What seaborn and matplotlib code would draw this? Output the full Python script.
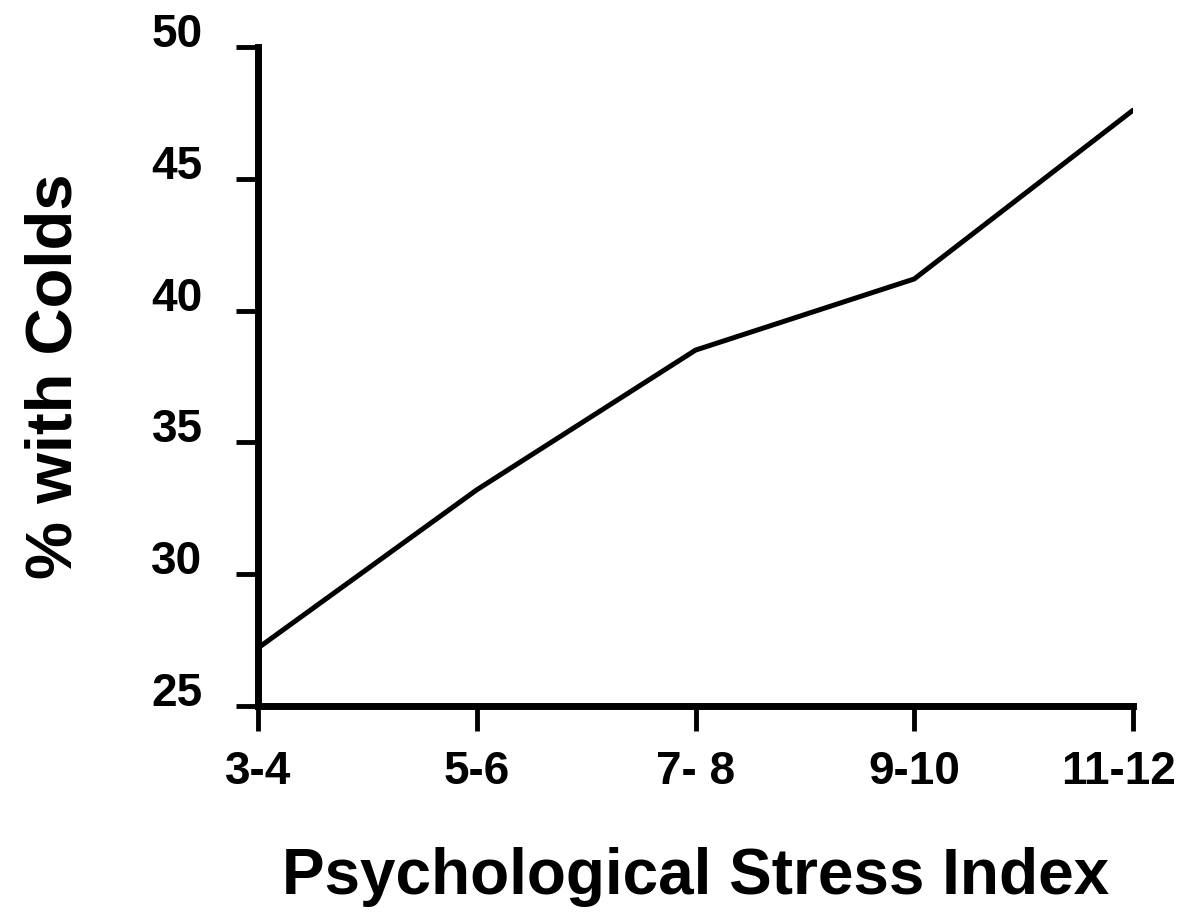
import numpy as np
import pandas as pd
import seaborn as sns
import matplotlib.pyplot as plt
import matplotlib.transforms as mtransforms

# data
stress_groups = ["3-4", "5-6", "7- 8", "9-10", "11-12"]
pct_colds = [27.2, 33.2, 38.5, 41.2, 47.6]
y_ticks = [25, 30, 35, 40, 45, 50]

df = pd.DataFrame({"group": stress_groups, "pct": pct_colds})
df["pos"] = np.arange(len(df))

sns.set_style("white")
plt.rcParams["font.family"] = ["Liberation Sans", "DejaVu Sans"]
plt.rcParams["font.weight"] = "bold"
plt.rcParams["text.color"] = "black"
plt.rcParams["axes.labelcolor"] = "black"
plt.rcParams["xtick.color"] = "black"
plt.rcParams["ytick.color"] = "black"

fig = plt.figure(figsize=(11.87, 9.14), dpi=100)
ax = fig.add_axes([0.2174, 0.2276, 0.9545 - 0.2174, 0.9486 - 0.2276])

sns.lineplot(data=df, x="pos", y="pct", color="black", linewidth=3.6, ax=ax)

ax.set_xlim(0, len(df) - 1)
ax.set_ylim(25, 50)
ax.set_xticks(df["pos"])
ax.set_xticklabels(stress_groups, fontsize=33, fontweight="bold")
ax.set_yticks(y_ticks)
ax.set_yticklabels([str(t) for t in y_ticks], fontsize=33, fontweight="bold")

for side in ["top", "right"]:
    ax.spines[side].set_visible(False)
for side in ["left", "bottom"]:
    ax.spines[side].set_linewidth(5)
    ax.spines[side].set_color("black")

ax.tick_params(axis="x", bottom=True, direction="out", length=18, width=3.5,
               color="black", labelcolor="black", pad=14)
ax.tick_params(axis="y", left=True, direction="out", length=16, width=3.5,
               color="black", labelcolor="black", pad=24)

# y labels sit a little above their ticks in the original
offset = mtransforms.ScaledTranslation(0, 17 / 100, fig.dpi_scale_trans)
for lab in ax.get_yticklabels():
    lab.set_transform(lab.get_transform() + offset)
# last x label is nudged left so it stays inside the figure
last = ax.get_xticklabels()[-1]
last.set_transform(last.get_transform() + mtransforms.ScaledTranslation(-14 / 100, 0, fig.dpi_scale_trans))

ax.set_xlabel("Psychological Stress Index", fontsize=46, fontweight="bold", labelpad=38)
ax.set_ylabel("% with Colds", fontsize=47, fontweight="bold", labelpad=48)

fig.savefig("out.png", dpi=100, facecolor="white")
